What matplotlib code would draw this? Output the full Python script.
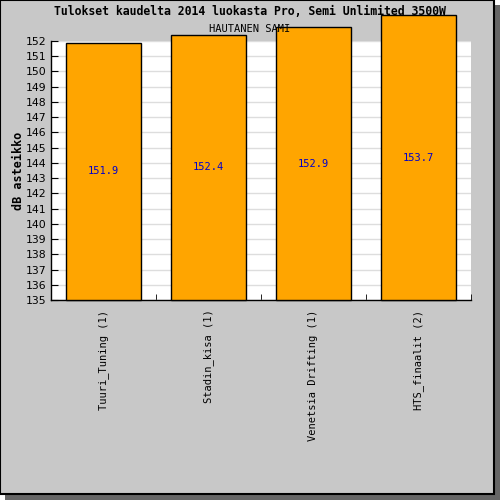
import matplotlib
matplotlib.use("Agg")
import matplotlib.pyplot as plt
from matplotlib.patches import Rectangle

categories = ["Tuuri_Tuning (1)", "Stadin_kisa (1)", "Venetsia Drifting (1)", "HTS_finaalit (2)"]
values = [151.9, 152.4, 152.9, 153.7]
y_ticks = list(range(135, 153))

title = "Tulokset kaudelta 2014 luokasta Pro, Semi Unlimited 3500W"
subtitle = "HAUTANEN SAMI"

fig = plt.figure(figsize=(5, 5), dpi=100)
fig.patch.set_facecolor("white")

# background, shadow and frame
fig.patches.append(Rectangle((0.01, 0.0), 0.99, 0.99, transform=fig.transFigure,
                             facecolor="#666666", edgecolor="none", zorder=-3))
fig.patches.append(Rectangle((0.0, 0.012), 0.988, 0.988, transform=fig.transFigure,
                             facecolor="#c8c8c8", edgecolor="black", linewidth=1.5, zorder=-2))

ax = fig.add_axes([0.102, 0.4, 0.84, 0.518])
ax.set_facecolor("white")

x = list(range(len(categories)))
ax.bar(x, [v - 135 for v in values], bottom=135, width=0.705, color="orange",
       edgecolor="black", linewidth=1, clip_on=False, zorder=3)

for xi, v in zip(x, values):
    ax.text(xi, (135 + v) / 2, f"{v}", ha="center", va="center", color="#0000cc",
            fontsize=7.5, family="DejaVu Sans Mono", zorder=4)

ax.set_xlim(-0.5, 3.5)
ax.set_ylim(135, 152)
ax.set_yticks(y_ticks)
ax.set_yticklabels([str(t) for t in y_ticks], fontsize=7.8)
ax.tick_params(axis="y", direction="in", length=5, pad=3, left=True, right=False)
ax.yaxis.grid(True, color="#dddddd", linewidth=1)
ax.set_axisbelow(True)

ax.set_xticks(x)
ax.set_xticklabels(categories, rotation=90, fontsize=7.5, family="DejaVu Sans Mono", va="top")
ax.tick_params(axis="x", which="major", length=0, pad=7)
ax.set_xticks([0.5, 1.5, 2.5, 3.5], minor=True)
ax.tick_params(axis="x", which="minor", direction="in", length=4)

for s in ["top", "right"]:
    ax.spines[s].set_visible(False)
ax.spines["left"].set_linewidth(1)
ax.spines["bottom"].set_linewidth(1)

ax.set_ylabel("dB asteikko", fontsize=8.5, fontweight="bold", family="DejaVu Sans Mono", labelpad=0)
ax.yaxis.set_label_coords(-0.062, 0.5)

fig.text(0.5, 0.977, title, ha="center", va="center", fontsize=8.3, fontweight="bold",
         family="DejaVu Sans Mono")
fig.text(0.5, 0.942, subtitle, ha="center", va="center", fontsize=7.5, family="DejaVu Sans Mono")

fig.savefig("out.png", dpi=100)
